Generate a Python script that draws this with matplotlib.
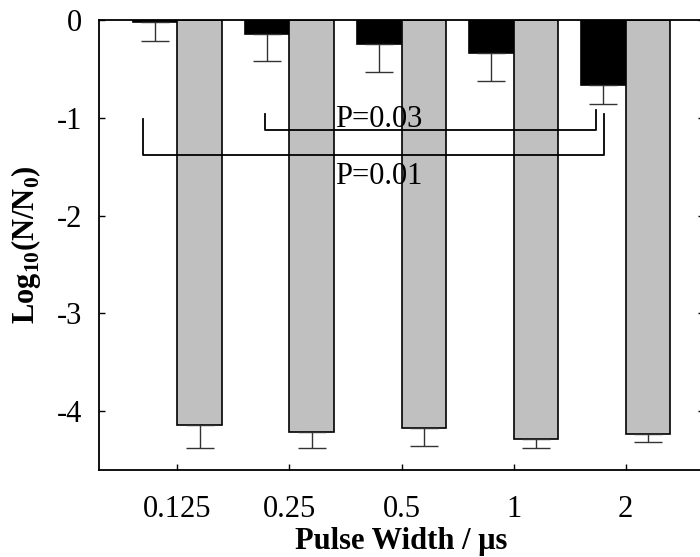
import numpy as np
import matplotlib
matplotlib.use("Agg")
import matplotlib.pyplot as plt

plt.rcParams['font.family'] = ['Liberation Serif', 'DejaVu Serif']
plt.rcParams['mathtext.fontset'] = 'custom'
plt.rcParams['mathtext.rm'] = 'Liberation Serif'
plt.rcParams['mathtext.bf'] = 'Liberation Serif:bold'

# data
pulse_width = ['0.125', '0.25', '0.5', '1', '2']
black_vals = [-0.02, -0.146, -0.25, -0.34, -0.66]
black_err = [0.19, 0.27, 0.28, 0.28, 0.20]
gray_vals = [-4.14, -4.21, -4.17, -4.28, -4.23]
gray_err = [0.23, 0.16, 0.18, 0.10, 0.08]

# brackets: (x, y) corner points, label and label position
bracket_03 = ([0.78, 0.78, 3.74, 3.74], [-0.96, -1.12, -1.12, -0.92])
bracket_01 = ([-0.31, -0.31, 3.81, 3.81], [-1.01, -1.38, -1.38, -0.96])
p_labels = ['P=0.03', 'P=0.01']
p_pos = [(1.41, -1.09), (1.41, -1.68)]

x = np.arange(len(pulse_width))
w = 0.4

fig = plt.figure(figsize=(7, 5.57), dpi=100)
ax = fig.add_axes([99/700, 1-470/557, 605/700, 450/557])

ax.bar(x - w/2, black_vals, w, color='black', edgecolor='black', linewidth=1.2, zorder=2)
ax.bar(x + w/2, gray_vals, w, color='#c0c0c0', edgecolor='black', linewidth=1.2, zorder=2)
ax.errorbar(x - w/2, black_vals, yerr=[black_err, np.zeros(5)], fmt='none',
            ecolor='#333333', elinewidth=1, capsize=10, capthick=1, zorder=3)
ax.errorbar(x + w/2, gray_vals, yerr=[gray_err, np.zeros(5)], fmt='none',
            ecolor='#333333', elinewidth=1, capsize=10, capthick=1, zorder=3)

ax.plot(*bracket_03, color='black', lw=1.3, zorder=4)
ax.plot(*bracket_01, color='black', lw=1.3, zorder=4)
for lab, (px, py) in zip(p_labels, p_pos):
    ax.text(px, py, lab, fontsize=22, ha='left', va='baseline', zorder=5)

ax.set_xlim(-0.7, 4.7)
ax.set_ylim(-4.6, 0)
ax.set_xticks(x)
ax.set_xticklabels(pulse_width)
ax.set_yticks([0, -1, -2, -3, -4])
ax.set_yticklabels(['0', '-1', '-2', '-3', '-4'])
ax.tick_params(axis='x', direction='in', length=4, width=1, labelsize=22, pad=18)
ax.tick_params(axis='y', direction='in', length=4, width=1, labelsize=22, pad=12, right=True)
for s in ax.spines.values():
    s.set_linewidth(1.3)

ax.set_xlabel('Pulse Width / μs', fontsize=22, fontweight='bold', labelpad=2)
ax.set_ylabel(r'Log$_{\mathbf{10}}$(N/N$_{\mathbf{0}}$)', fontsize=22, fontweight='bold', labelpad=10)

fig.savefig('out.png', dpi=100)
